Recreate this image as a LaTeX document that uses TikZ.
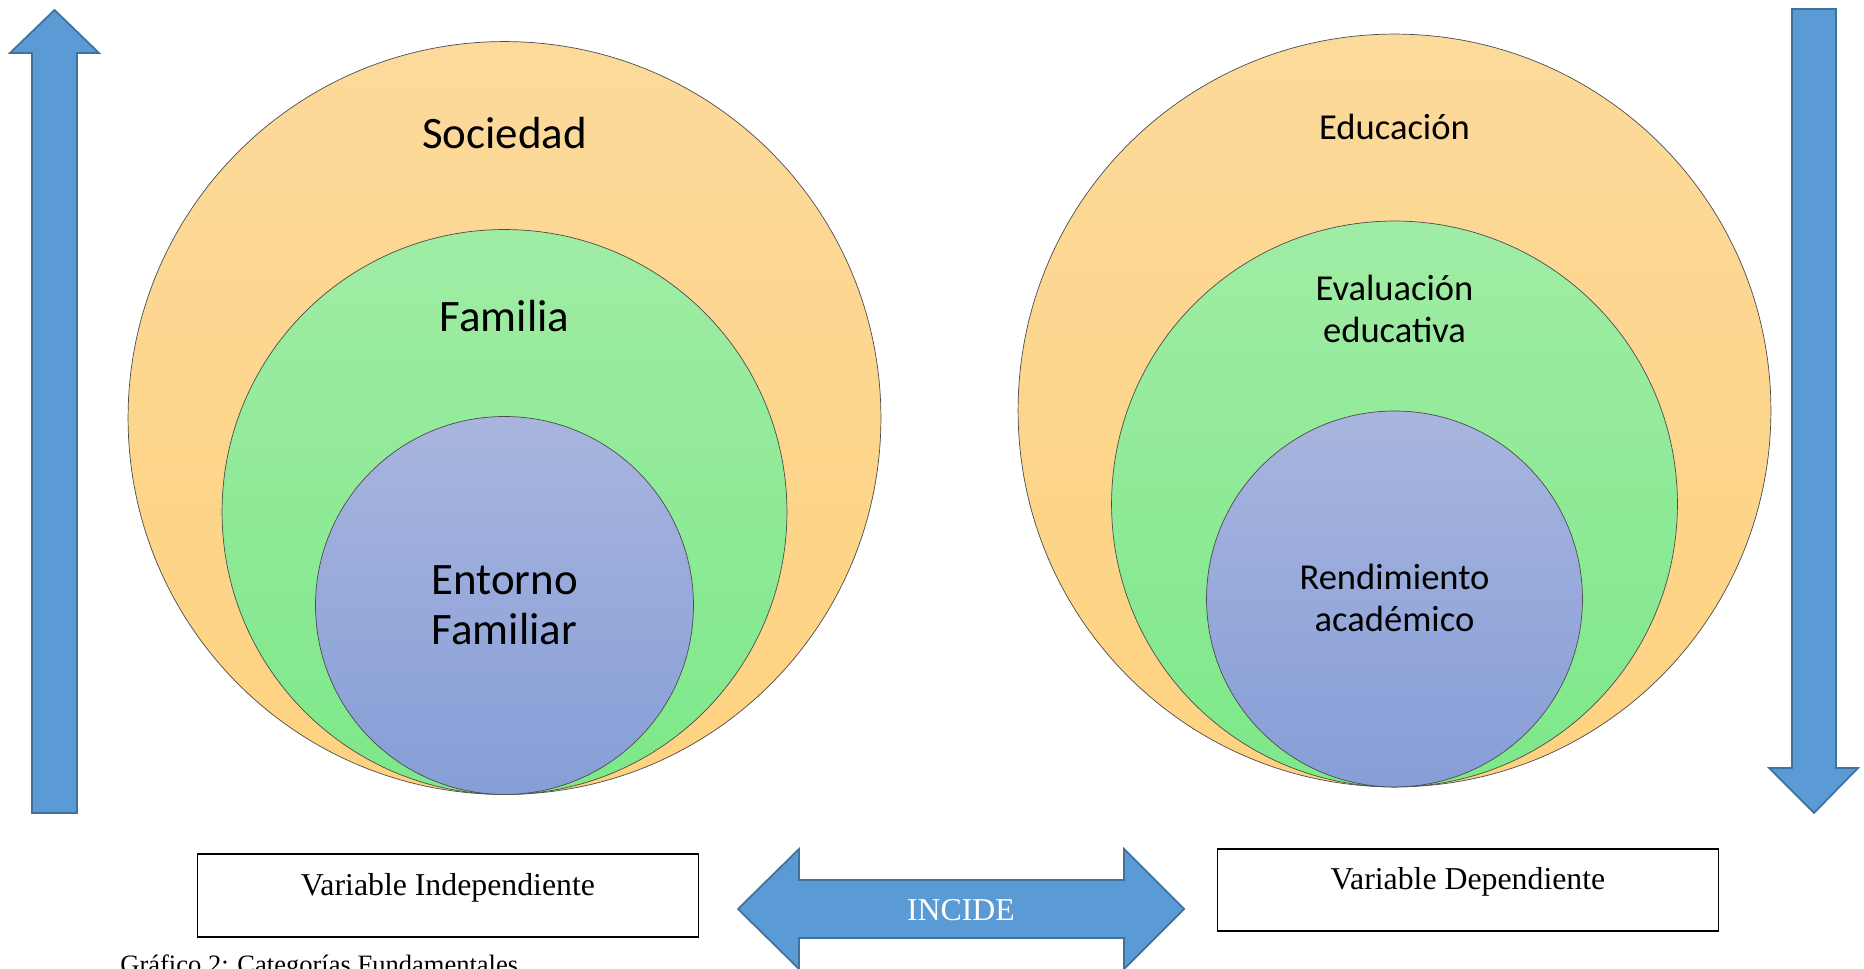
\documentclass[tikz,border=0pt]{standalone}
\usepackage{fontspec}
\setmainfont{Liberation Serif}
\newfontfamily\calib{Carlito}
\usetikzlibrary{positioning}
\definecolor{orgtop}{RGB}{252,218,155}
\definecolor{orgbot}{RGB}{254,210,128}
\definecolor{grntop}{RGB}{160,236,165}
\definecolor{grnbot}{RGB}{125,232,137}
\definecolor{blutop}{RGB}{168,181,222}
\definecolor{blubot}{RGB}{134,158,215}
\definecolor{arrfill}{RGB}{91,155,213}
\definecolor{arredge}{RGB}{65,113,156}

\begin{document}
\begin{tikzpicture}[x=0.02cm,y=-0.02cm]
\tikzset{ring/.style={circle, draw=black!70, line width=0.4pt, inner sep=0pt, outer sep=0pt}}
\tikzset{orgring/.style={ring, top color=orgtop, bottom color=orgbot}}
\tikzset{grnring/.style={ring, top color=grntop, bottom color=grnbot}}
\tikzset{bluring/.style={ring, top color=blutop, bottom color=blubot}}
\tikzset{biglbl/.style={font=\calib\fontsize{25.6}{28.5}\selectfont, align=center}}
\tikzset{smalllbl/.style={font=\calib\fontsize{20.8}{23.7}\selectfont, align=center}}
\tikzset{blockarrow/.style={fill=arrfill, draw=arredge, line width=1pt, line join=miter}}
\tikzset{varbox/.style={draw=black, line width=0.6pt, minimum width=10.04cm, inner sep=0pt}}
\tikzset{vartext/.style={font=\fontsize{18.1}{21}\selectfont, anchor=base}}
\useasboundingbox (0,0) rectangle (1864,969);

\node[orgring, minimum size=15.06cm] (socL) at (504.5,418) {};
\node[grnring, minimum size=11.3cm, anchor=south] (famL) at (socL.south) {};
\node[bluring, minimum size=7.56cm, anchor=south] (entL) at (socL.south) {};
\node[biglbl] (tSoc) at (504.5,133) {Sociedad};
\node[biglbl] (tFam) at (504.5,316) {Familia};
\node[biglbl] (tEnt) at (entL.center) {Entorno\\Familiar};

\node[orgring, minimum size=15.06cm] (eduR) at (1394.5,410.5) {};
\node[grnring, minimum size=11.32cm, anchor=south] (evaR) at (eduR.south) {};
\node[bluring, minimum size=7.52cm, anchor=south] (renR) at (eduR.south) {};
\node[smalllbl] (tEdu) at (1394.5,127) {Educaci\'on};
\node[smalllbl] (tEva) at (1394.5,309) {Evaluaci\'on\\educativa};
\node[smalllbl] (tRen) at (1394.5,598) {Rendimiento\\acad\'emico};

\draw[blockarrow] (32,813) -- (32,53) -- (10,53) -- (54.5,10) -- (99,53) -- (77,53) -- (77,813) -- cycle;
\draw[blockarrow] (1792,9) -- (1792,768) -- (1769,768) -- (1814,813) -- (1858,768) -- (1836,768) -- (1836,9) -- cycle;
\draw[blockarrow] (738,909) -- (799,849) -- (799,880) -- (1124,880) -- (1124,849) -- (1184,909)
  -- (1124,969) -- (1124,938) -- (799,938) -- (799,969) -- cycle;
\node[vartext, text=white] (tInc) at (961,920) {INCIDE};

\node[varbox, minimum height=1.66cm] (boxI) at (448,895.5) {};
\node[vartext] (tIndep) at (448,895) {Variable Independiente};
\node[varbox, minimum height=1.64cm] (boxD) at (1468,890) {};
\node[vartext] (tDep) at (1468,889) {Variable Dependiente};

\node[font=\fontsize{15.1}{18}\selectfont, inner sep=0pt, anchor=base west] (caption) at (120,973) {Gr\'afico 2: Categor\'ias Fundamentales};
\end{tikzpicture}
\end{document}
